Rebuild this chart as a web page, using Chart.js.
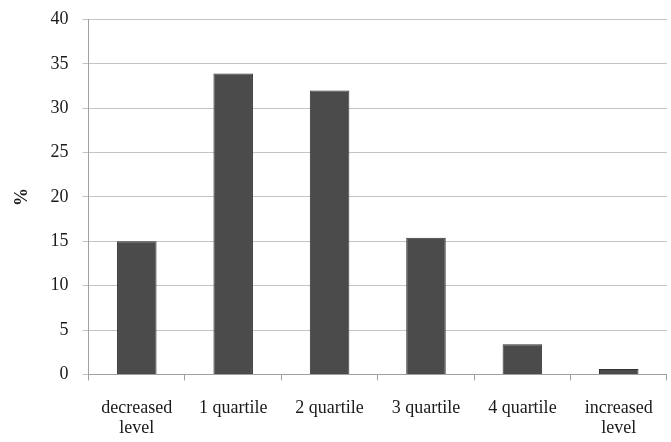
<!DOCTYPE html>
<html lang="en">
<head>
    <meta charset="UTF-8">
    <title>Distribution by quartile</title>
    <script src="https://cdn.jsdelivr.net/npm/chart.js"></script>
    <style>
        body { margin: 0; background: #fff; }
        #wrap { width: 671px; height: 442px; }
    </style>
</head>
<body>
    <div id="wrap"><canvas id="barChart"></canvas></div>

    <script>
        const categories = [['decreased', 'level'], '1 quartile', '2 quartile', '3 quartile', '4 quartile', ['increased', 'level']]
        const percents = [15.0, 33.9, 32.0, 15.4, 3.4, 0.6]

        const ctx = document.getElementById('barChart').getContext('2d')
        new Chart(ctx, {
            type: 'bar',
            data: {
                labels: categories,
                datasets: [{
                    data: percents,
                    backgroundColor: '#4b4b4b',
                    borderColor: '#333333',
                    borderWidth: 1,
                    categoryPercentage: 1,
                    barPercentage: 0.41
                }]
            },
            options: {
                responsive: true,
                maintainAspectRatio: false,
                animation: false,
                layout: { padding: { top: 19.5, right: 3, left: 8, bottom: -14 } },
                plugins: { legend: { display: false }, tooltip: { enabled: false } },
                scales: {
                    x: {
                        grid: { offset: true, drawOnChartArea: false, tickLength: 6, color: '#a0a0a0' },
                        border: { color: '#a0a0a0' },
                        ticks: { color: '#1a1a1a', font: { family: 'Liberation Serif', size: 18, lineHeight: 1.1 }, maxRotation: 0, autoSkip: false, padding: 18 }
                    },
                    y: {
                        min: 0, max: 40,
                        ticks: { stepSize: 5, color: '#1a1a1a', font: { family: 'Liberation Serif', size: 18 }, padding: 4 },
                        // long tick slot for label spacing, only the 6px next to the axis is drawn
                        grid: { color: '#c4c4c4', tickLength: 16, tickBorderDash: [0, 10, 6, 40] },
                        border: { color: '#a0a0a0' },
                        title: { display: true, text: '%', color: '#1a1a1a', font: { family: 'Liberation Serif', size: 18, weight: 'bold' }, padding: { bottom: 13 } }
                    }
                }
            }
        })
    </script>
</body>
</html>
